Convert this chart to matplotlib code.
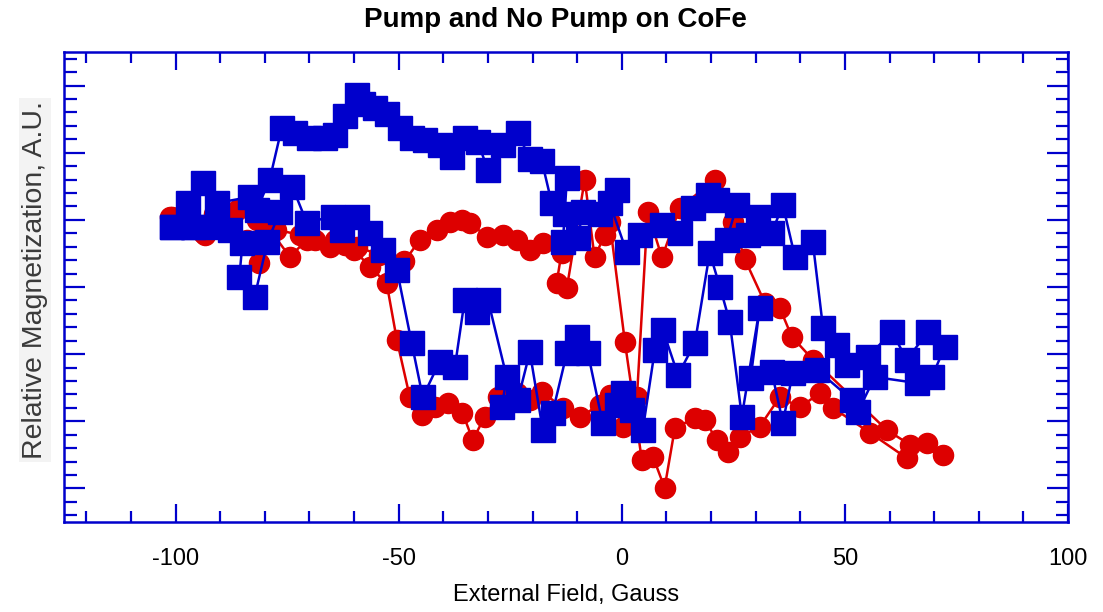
import matplotlib
matplotlib.use("Agg")
import matplotlib.pyplot as plt
from matplotlib.ticker import MultipleLocator

# ---------------- data ----------------
title = "Pump and No Pump on CoFe"
x_label = "External Field, Gauss"
y_label = "Relative Magnetization, A.U."
x_ticks = [-100, -50, 0, 50, 100]
x_tick_labels = ["-100", "-50", "0", "50", "100"]

# red circles (sweep up, then back)
red_x = [-101.3, -98.0, -93.9, -91.3, -86.3, -81.8, -77.4, -72.2, -68.8, -65.5,
         -62.1, -59.4, -54.3, -48.7, -45.3, -41.3, -38.6, -35.9, -34.1, -30.3,
         -26.7, -23.5, -20.6, -17.7, -13.5, -14.6, -12.3, -8.3, -6.1, -3.8,
         -2.7, 0.7, 4.5, 7.0, 9.6, 11.9, 16.4, 18.6, 21.3, 23.8,
         26.5, 30.9, 35.4, 39.9, 44.4, 47.3, 55.6, 63.9, 68.4, 72.0,
         64.6, 59.4, 42.8, 38.1, 35.4, 32.1, 27.6, 24.9, 20.9, 13.0,
         9.0, 5.8, 3.4, 0.2, -2.7, -4.9, -9.4, -13.2, -17.9, -20.6,
         -23.5, -27.8, -30.7, -33.4, -35.7, -39.0, -41.9, -44.8, -47.5, -50.4,
         -52.7, -56.5, -59.9, -64.3, -70.6, -74.4, -78.5, -81.2, -83.9, -88.3,
         -93.5, -98.0, -100.9]
red_y = [4.05, 3.93, 3.81, 4.08, 4.15, 4.00, 3.85, 3.78, 3.70, 3.60,
         3.63, 3.60, 3.48, 3.38, 3.70, 3.85, 3.97, 4.00, 3.96, 3.75,
         3.78, 3.70, 3.55, 3.66, 3.51, 3.06, 2.99, 4.60, 3.44, 3.78,
         3.97, 2.18, 0.42, 0.47, 0.01, 0.90, 1.05, 1.02, 0.72, 0.54,
         0.77, 0.92, 1.36, 1.21, 1.42, 1.20, 0.83, 0.45, 0.68, 0.50,
         0.65, 0.87, 1.92, 2.26, 2.69, 2.76, 3.41, 3.97, 4.60, 4.18,
         3.44, 4.12, 1.36, 0.92, 1.39, 1.24, 1.07, 1.20, 1.44, 1.32,
         1.42, 1.36, 1.07, 0.72, 1.13, 1.27, 1.21, 1.10, 1.36, 2.21,
         3.06, 3.30, 3.55, 3.70, 3.70, 3.45, 3.82, 3.36, 3.70, 3.93,
         3.78, 3.93, 4.05]

# blue squares (sweep up, then back)
blue_x = [-100.7, -96.2, -97.3, -93.9, -90.8, -83.4, -81.8, -78.9, -76.2, -73.3,
          -70.0, -66.6, -64.3, -62.1, -59.4, -58.1, -55.4, -52.7, -49.8, -47.1,
          -44.2, -40.8, -38.1, -35.2, -32.3, -30.0, -26.7, -23.3, -20.6, -17.9,
          -15.7, -12.3, -12.8, -13.2, -9.9, -8.7, -4.9, -1.1, -2.7, 1.1,
          4.0, 9.0, 13.0, 15.9, 19.3, 21.3, 25.8, 23.5, 28.3, 30.5,
          33.6, 36.1, 38.8, 42.8, 45.1, 48.2, 50.4, 55.2, 60.5, 63.9,
          68.6, 72.4,
          69.5, 66.1, 56.7, 52.9, 51.6, 43.7, 38.3, 36.1, 33.6, 28.9,
          30.9, 26.9, 24.2, 22.0, 19.7, 16.4, 12.6, 9.2, 7.4, 4.7,
          2.2, 0.2, -1.1, -4.3, -7.6, -10.1, -12.3, -15.5, -17.7, -20.6,
          -23.3, -26.9, -25.8, -30.0, -32.5, -35.2, -37.4, -40.8, -44.6, -47.1,
          -50.4, -53.6, -56.5, -59.4, -62.6, -64.8, -70.6, -73.8, -76.7, -79.4,
          -82.3, -85.7, -85.0, -87.9, -90.8, -96.2, -100.7]
blue_y = [3.90, 3.90, 4.25, 4.55, 4.25, 4.34, 4.15, 4.60, 5.37, 5.30,
          5.22, 5.22, 5.27, 5.54, 5.86, 5.72, 5.67, 5.57, 5.37, 5.22,
          5.19, 5.12, 4.94, 5.22, 5.16, 4.75, 5.12, 5.30, 4.90, 4.87,
          4.25, 4.63, 4.08, 3.67, 3.73, 4.12, 4.08, 4.45, 4.25, 3.52,
          3.78, 3.93, 3.81, 4.18, 4.37, 4.30, 4.22, 3.70, 3.78, 4.05,
          3.81, 4.22, 3.45, 3.67, 2.39, 2.14, 1.84, 1.96, 2.33, 1.92,
          2.33, 2.11,
          1.66, 1.57, 1.66, 1.14, 1.32, 1.77, 1.72, 0.98, 1.74, 1.65,
          2.69, 1.07, 2.48, 3.00, 3.51, 2.17, 1.69, 2.36, 2.06, 0.87,
          1.17, 1.42, 1.24, 0.98, 2.02, 2.26, 2.02, 1.13, 0.87, 2.03,
          1.32, 1.21, 1.66, 2.81, 2.63, 2.81, 1.81, 1.89, 1.36, 2.17,
          3.26, 3.55, 3.81, 4.05, 3.85, 4.05, 3.96, 4.49, 4.11, 3.67,
          2.85, 3.15, 3.66, 3.85, 3.90, 3.90, 3.90]

# ---------------- style ----------------
RED = "#DD0000"
BLUE = "#0000CC"
plt.rcParams["font.family"] = ["Liberation Sans", "DejaVu Sans"]

fig = plt.figure(figsize=(11.03, 6.12), dpi=100)
ax = fig.add_axes([64 / 1103, 90 / 612, (1068 - 64) / 1103, (522 - 52) / 612])

ax.plot(red_x, red_y, color=RED, lw=1.8, marker="o", ms=14.5,
        mfc=RED, mec=RED, zorder=2)
ax.plot(blue_x, blue_y, color=BLUE, lw=1.8, marker="s", ms=17.5,
        mfc=BLUE, mec=BLUE, zorder=3)

ax.set_xlim(-125, 100)
ax.set_ylim(-0.5, 6.5)
ax.xaxis.set_major_locator(MultipleLocator(50))
ax.xaxis.set_minor_locator(MultipleLocator(10))
ax.yaxis.set_major_locator(MultipleLocator(1))
ax.yaxis.set_minor_locator(MultipleLocator(0.2))
ax.set_xticks(x_ticks)
ax.set_xticklabels(x_tick_labels)

for s in ax.spines.values():
    s.set_color(BLUE)
    s.set_linewidth(1.8)

ax.tick_params(axis="x", which="major", direction="in", length=13, width=1.6,
               color=BLUE, top=True, bottom=True, labelsize=17, pad=19,
               labelcolor="black")
ax.tick_params(axis="x", which="minor", direction="in", length=8, width=1.6,
               color=BLUE, top=True, bottom=True)
ax.tick_params(axis="y", which="major", direction="in", length=15, width=1.6,
               color=BLUE, left=True, right=True, labelleft=False)
ax.tick_params(axis="y", which="minor", direction="in", length=9, width=1.6,
               color=BLUE, left=True, right=True)

fig.text(555 / 1103, 1 - 20 / 612, title, ha="center", va="center",
         fontsize=20, fontweight="bold", color="black")
fig.text(566 / 1103, 1 - 595 / 612, x_label, ha="center", va="center",
         fontsize=17, color="black")
fig.text(35 / 1103, 1 - 280 / 612, y_label, ha="center", va="center",
         rotation=90, fontsize=20.5, color="#3a3a3a",
         bbox=dict(facecolor="#f3f3f3", edgecolor="none", pad=2))

fig.savefig("out.png", dpi=100)
